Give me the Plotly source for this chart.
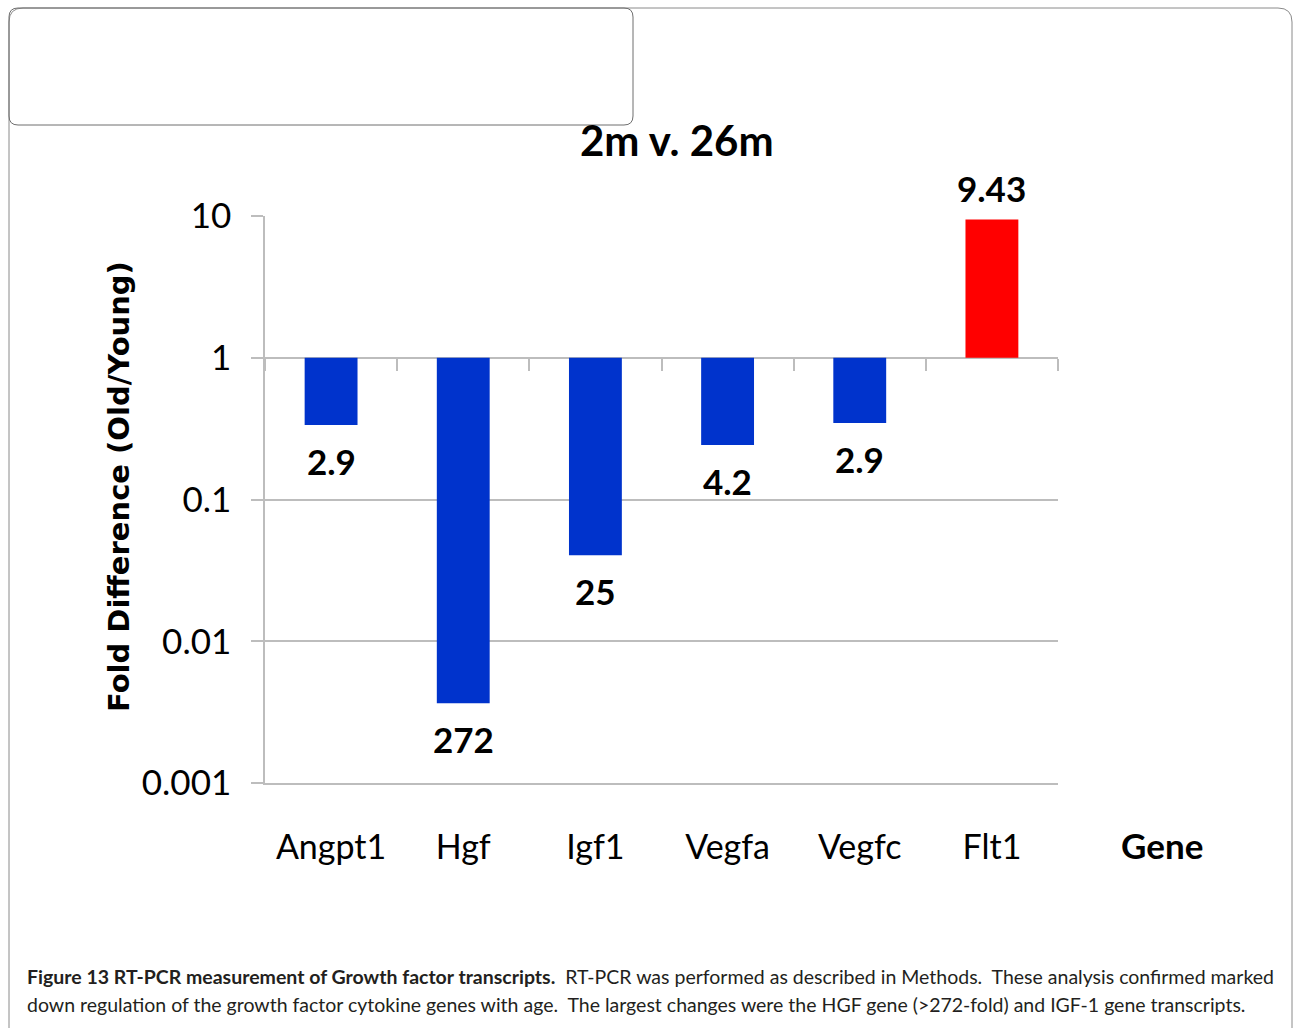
import math
import plotly.graph_objects as go

# ---------------- data ----------------
genes = ["Angpt1", "Hgf", "Igf1", "Vegfa", "Vegfc", "Flt1"]
ratio_old_young = [0.335, 0.00366, 0.0405, 0.242, 0.346, 9.43]
value_labels = ["2.9", "272", "25", "4.2", "2.9", "9.43"]
bar_colors = ["#0033CC", "#0033CC", "#0033CC", "#0033CC", "#0033CC", "#FF0000"]
y_tickvals = [0.001, 0.01, 0.1, 1, 10]
y_ticktext = ["0.001", "0.01", "0.1", "1", "10"]

caption_bold = "Figure 13 RT-PCR measurement of Growth factor transcripts."
caption_rest1 = "RT-PCR was performed as described in Methods.&nbsp; These analysis confirmed marked"
caption_line2 = ("down regulation of the growth factor cytokine genes with age.&nbsp; The largest changes "
                 "were the HGF gene (&gt;272-fold) and IGF-1 gene transcripts.")

# ---------------- geometry ----------------
W, H = 1294, 1028
L, R, T, B = 265, 1058, 216, 783
PW, PH = R - L, B - T


def px(x):
    return (x - L) / PW


def py(y):
    return (B - y) / PH


GRID = "#BDBDBD"
FONT = "Lato, 'Open Sans', sans-serif"

bases = [min(v, 1.0) for v in ratio_old_young]
lengths = [abs(v - 1.0) for v in ratio_old_young]

fig = go.Figure()
fig.add_trace(go.Bar(
    x=genes, y=lengths, base=bases, width=0.4,
    marker=dict(color=bar_colors, line=dict(width=0)),
    hoverinfo="skip", showlegend=False,
))
# invisible trace for the boundary-tick axis at y = 1
fig.add_trace(go.Scatter(
    x=genes, y=[1] * len(genes), xaxis="x2", mode="markers",
    marker=dict(opacity=0), hoverinfo="skip", showlegend=False,
))

# value labels
for g, v, lab in zip(genes, ratio_old_young, value_labels):
    fig.add_annotation(
        x=g, y=math.log10(v), xref="x", yref="y", text=f"<b>{lab}</b>",
        showarrow=False, yanchor="middle", yshift=(32 if v > 1 else -36),
        font=dict(family=FONT, size=35, color="black"),
    )

# title
fig.add_annotation(x=px(677), y=py(140), xref="paper", yref="paper", text="<b>2m v. 26m</b>",
                   showarrow=False, xanchor="center", yanchor="middle",
                   font=dict(family=FONT, size=42, color="black"))
# y title
fig.add_annotation(x=px(119), y=py(487), xref="paper", yref="paper",
                   text="<b>Fold Difference (Old/Young)</b>", textangle=-90,
                   showarrow=False, xanchor="center", yanchor="middle",
                   font=dict(family="DejaVu Sans", size=29, color="black"))
# Gene label
fig.add_annotation(x=px(1162), y=py(845), xref="paper", yref="paper", text="<b>Gene</b>",
                   showarrow=False, xanchor="center", yanchor="middle",
                   font=dict(family=FONT, size=35, color="black"))
# caption
fig.add_annotation(x=px(25), y=py(977), xref="paper", yref="paper",
                   text=f"<b>{caption_bold}</b>&nbsp; {caption_rest1}",
                   showarrow=False, xanchor="left", yanchor="middle",
                   font=dict(family=FONT, size=19.5, color="#231F20"))
fig.add_annotation(x=px(25), y=py(1004), xref="paper", yref="paper",
                   text=caption_line2,
                   showarrow=False, xanchor="left", yanchor="middle",
                   font=dict(family=FONT, size=19.5, color="#231F20"))


def rounded_path(x0, y0, x1, y1, r, open_bottom=False):
    pts = []
    if open_bottom:
        pts.append(f"M {px(x0)},{py(y1)}")
    else:
        pts.append(f"M {px(x0)},{py(y1 - r)}")
    pts.append(f"L {px(x0)},{py(y0 + r)}")
    pts.append(f"Q {px(x0)},{py(y0)} {px(x0 + r)},{py(y0)}")
    pts.append(f"L {px(x1 - r)},{py(y0)}")
    pts.append(f"Q {px(x1)},{py(y0)} {px(x1)},{py(y0 + r)}")
    if open_bottom:
        pts.append(f"L {px(x1)},{py(y1)}")
    else:
        pts.append(f"L {px(x1)},{py(y1 - r)}")
        pts.append(f"Q {px(x1)},{py(y1)} {px(x1 - r)},{py(y1)}")
        pts.append(f"L {px(x0 + r)},{py(y1)}")
        pts.append(f"Q {px(x0)},{py(y1)} {px(x0)},{py(y1 - r)}")
        pts.append("Z")
    return " ".join(pts)


fig.add_shape(type="path", xref="paper", yref="paper",
              path=rounded_path(9, 8, 1292, 1040, 14, open_bottom=True),
              line=dict(color="#8A8A8A", width=1), layer="below")
fig.add_shape(type="path", xref="paper", yref="paper",
              path=rounded_path(9, 8, 633, 125, 9),
              line=dict(color="#6E6E6E", width=1), layer="below")

fig.update_layout(
    width=W, height=H,
    margin=dict(l=L, r=W - R, t=T, b=H - B, pad=0),
    paper_bgcolor="white", plot_bgcolor="white",
    bargap=0.6,
    xaxis=dict(
        type="category", categoryorder="array", categoryarray=genes,
        range=[-0.5, len(genes) - 0.5],
        showgrid=False, zeroline=False, showline=True, linecolor=GRID, linewidth=1.5,
        ticks="outside", ticklen=33, tickcolor="rgba(0,0,0,0)",
        tickfont=dict(family=FONT, size=34, color="black"),
    ),
    xaxis2=dict(
        type="category", categoryorder="array", categoryarray=genes,
        range=[-0.5, len(genes) - 0.5], overlaying="x", anchor="free", position=py(357.7),
        side="bottom", showgrid=False, zeroline=False, showline=False,
        ticks="outside", tickson="boundaries", ticklen=12, tickcolor=GRID, tickwidth=1.5,
        showticklabels=False,
    ),
    yaxis=dict(
        type="log", range=[-3, 1],
        tickvals=y_tickvals, ticktext=y_ticktext,
        showgrid=True, gridcolor=GRID, gridwidth=1.5,
        zeroline=False, showline=True, linecolor=GRID, linewidth=1.5,
        ticks="outside", ticklen=12, tickcolor=GRID, tickwidth=1.5,
        ticklabelstandoff=13,
        tickfont=dict(family=FONT, size=35, color="black"),
    ),
)

fig.write_html("out.html", config={"displayModeBar": False},
               post_script="document.body.style.margin='0';document.body.style.overflow='hidden';")
